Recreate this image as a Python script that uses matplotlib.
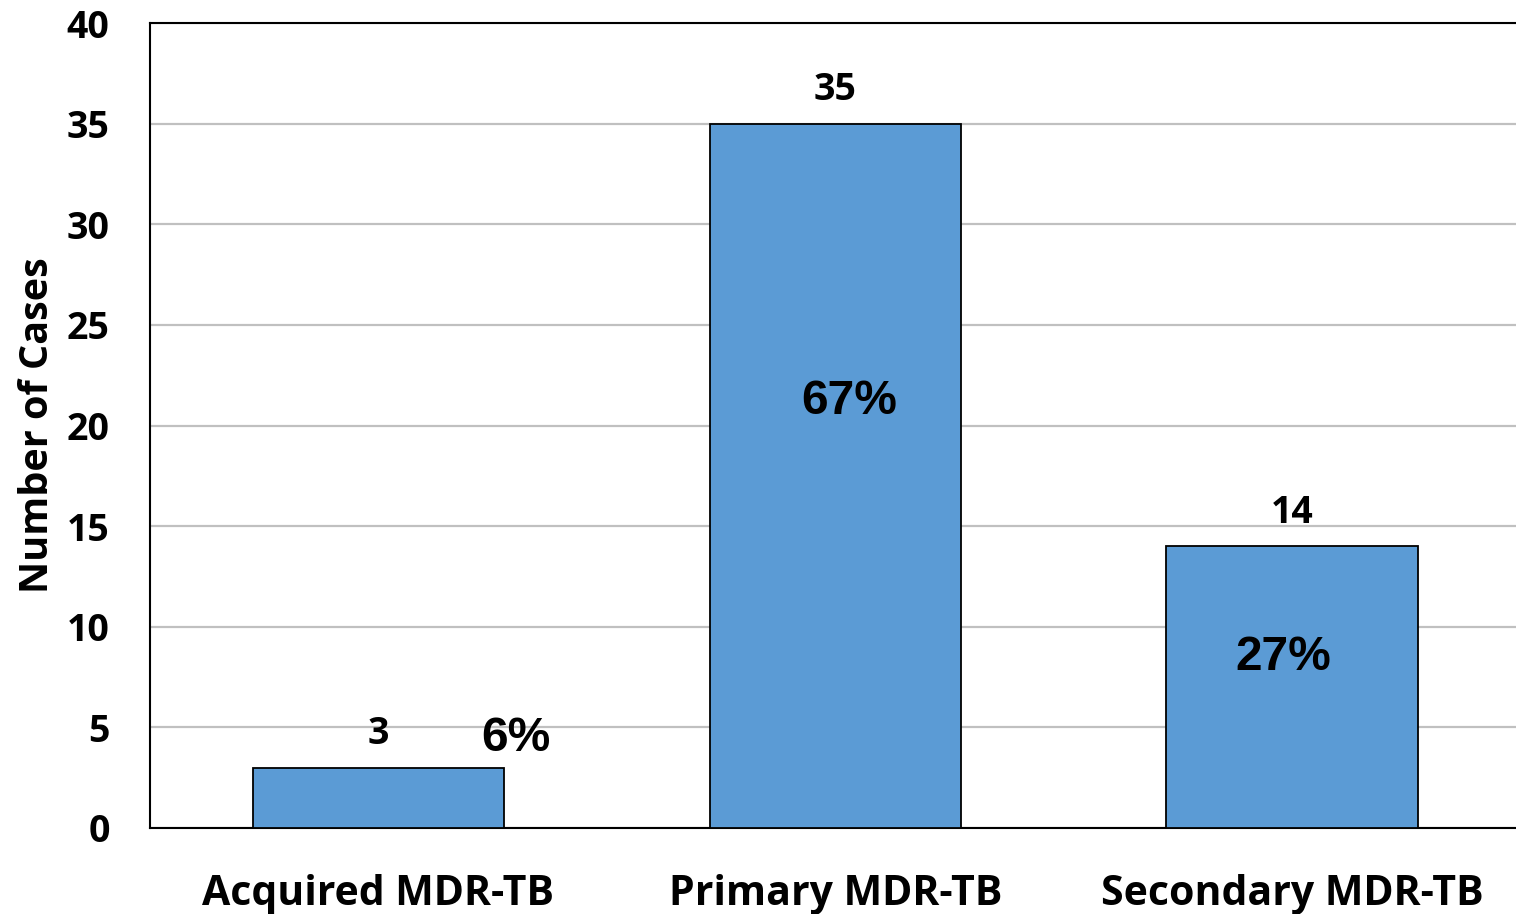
import matplotlib.pyplot as plt

categories = ['Acquired MDR-TB', 'Primary MDR-TB', 'Secondary MDR-TB']
cases = [3, 35, 14]
percent_labels = ['6%', '67%', '27%']
yticks = [0, 5, 10, 15, 20, 25, 30, 35, 40]

lab_font = 'Open Sans'
pct_font = 'Liberation Sans'

fig = plt.figure(figsize=(15.16, 9.14), dpi=100)
ax = fig.add_axes([0.0989, 0.0941, 0.9011, 0.8807])

x = list(range(len(categories)))
bars = ax.bar(x, cases, width=0.55, color='#5B9BD5', edgecolor='black',
              linewidth=1.3, zorder=3)

ax.set_xlim(-0.5, 2.49)
ax.set_ylim(0, 40)
ax.set_yticks(yticks)
ax.set_yticklabels([str(t) for t in yticks], fontfamily=lab_font,
                   fontweight='bold', fontsize=27)
ax.set_xticks(x)
ax.set_xticklabels(categories, fontfamily=lab_font, fontweight='bold', fontsize=29.5)
ax.tick_params(axis='y', length=0, pad=29)
ax.tick_params(axis='x', length=0, pad=33)

ax.grid(True, axis='y', color='#C0C0C0', linewidth=1.6, zorder=0)
ax.set_axisbelow(True)
for side in ['left', 'top', 'bottom']:
    ax.spines[side].set_linewidth(1.5)
    ax.spines[side].set_color('black')
ax.spines['right'].set_visible(False)

ax.set_ylabel('Number of Cases', fontfamily=lab_font, fontweight='bold',
              fontsize=28.5, labelpad=7)

# value labels above bars
for xi, v in zip(x, cases):
    ax.text(xi, v + 1.65, str(v), ha='center', va='center', fontfamily=lab_font,
            fontweight='bold', fontsize=27, zorder=4)

# percentage labels, offset from each bar centre
pct_offsets = [(0.30, 4.45), (0.03, 21.2), (-0.02, 8.45)]
for xi, (dx, py), lab in zip(x, pct_offsets, percent_labels):
    ax.text(xi + dx, py, lab, ha='center', va='center', fontfamily=pct_font,
            fontweight='bold', fontsize=34.5, zorder=4)

fig.savefig('out.png', dpi=100)
